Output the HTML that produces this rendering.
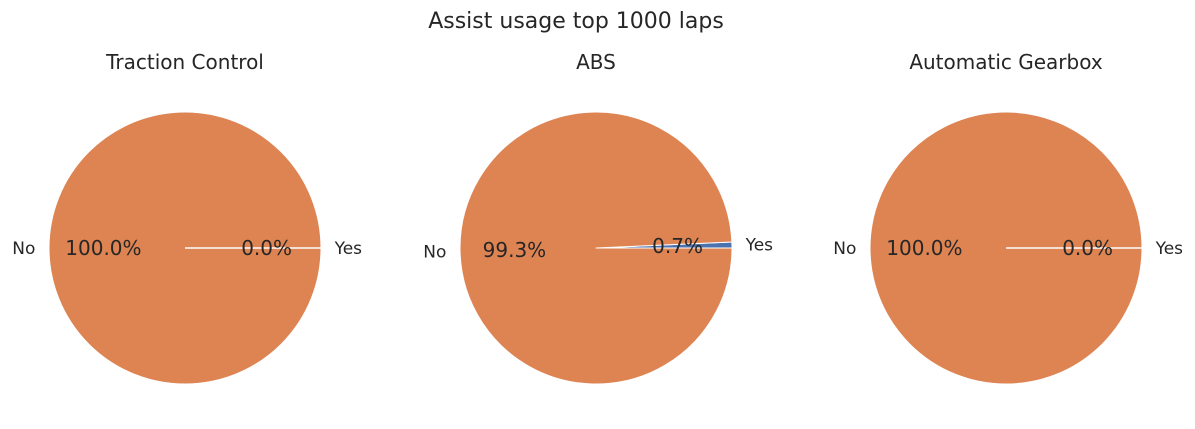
<!DOCTYPE html>
<html><head><meta charset="utf-8"><style>
html,body{margin:0;padding:0;background:#fff;}
svg{display:block;font-family:"DejaVu Sans","Liberation Sans",sans-serif;fill:#262626;}
</style></head><body>
<svg id="chart" width="1195" height="429" viewBox="0 0 1195 429">
<text x="576" y="28" text-anchor="middle" font-size="22">Assist usage top 1000 laps</text>
</svg>
<script>
const titles = ["Traction Control", "ABS", "Automatic Gearbox"];
const categories = ["Yes", "No"];
const yesValues = [0, 7, 0];
const noValues = [1000, 993, 1000];
const colors = ["#4c72b0", "#dd8452"];
const centersX = [185, 596, 1006];
const cy = 248, R = 136;
const NS = "http://www.w3.org/2000/svg";
const svg = document.getElementById("chart");
function mk(tag, attrs){const e=document.createElementNS(NS,tag);for(const k in attrs)e.setAttribute(k,attrs[k]);return e;}
function pt(cx,r,a){return [cx+r*Math.cos(a), cy-r*Math.sin(a)];}
titles.forEach((t,i)=>{
  const cx = centersX[i];
  const g = mk("g",{});
  
  
  svg.appendChild(g);
  const st = mk("text",{x:cx,y:69,"text-anchor":"middle","font-size":"20"});
  st.textContent = t;
  
  
  g.appendChild(st);
  const vals = [yesValues[i], noValues[i]];
  const total = vals[0]+vals[1];
  const texts = [];
  let a0 = 0;
  vals.forEach((v,j)=>{
    const frac = v/total;
    const a1 = a0 + frac*2*Math.PI;
    let shape;
    if (frac >= 0.9999) {
      shape = mk("circle",{cx:cx,cy:cy,r:R,fill:colors[j],stroke:"#fff","stroke-width":1});
      g.appendChild(shape);
      g.appendChild(mk("line",{x1:cx,y1:cy,x2:cx+R,y2:cy,stroke:"#fff","stroke-width":1.5}));
    } else if (frac > 0) {
      const p0 = pt(cx,R,a0), p1 = pt(cx,R,a1);
      const large = (a1-a0) > Math.PI ? 1 : 0;
      shape = mk("path",{d:`M${cx},${cy} L${p0[0]},${p0[1]} A${R},${R} 0 ${large} 0 ${p1[0]},${p1[1]} Z`,fill:colors[j],stroke:"#fff","stroke-width":1,"stroke-linejoin":"round"});
      g.appendChild(shape);
    }
    if (shape){
      
      
    }
    const mid = (a0+a1)/2;
    const lp = pt(cx,R*1.1,mid);
    const lab = mk("text",{x:lp[0],y:lp[1]+6,"text-anchor":Math.cos(mid)>=0?"start":"end","font-size":"17"});
    lab.textContent = categories[j];
    
    
    texts.push(lab);
    const pp = pt(cx,R*0.6,mid);
    const pc = mk("text",{x:pp[0],y:pp[1]+7,"text-anchor":"middle","font-size":"20"});
    pc.textContent = (frac*100).toFixed(1)+"%";
    
    
    texts.push(pc);
    a0 = a1;
  });
  texts.forEach(e=>g.appendChild(e));
});
</script>
</body></html>
